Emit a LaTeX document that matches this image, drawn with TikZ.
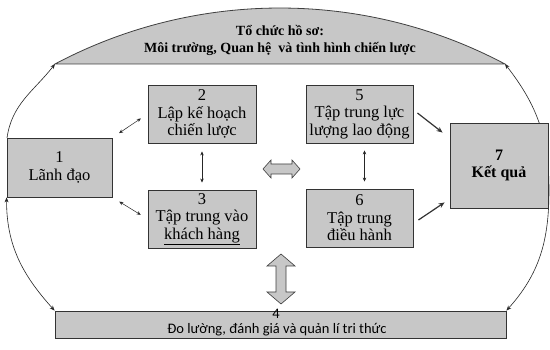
\documentclass[tikz,border=0pt]{standalone}
\usepackage{fontspec}
\setmainfont{Liberation Serif}
\newfontfamily\boxsans{Carlito}
\usetikzlibrary{arrows.meta}
\definecolor{fillg}{gray}{0.78}
\definecolor{edgeg}{gray}{0.2}
\begin{document}
\begin{tikzpicture}[x=1pt,y=-1pt,
  gbox/.style={draw=edgeg, line width=0.9pt, fill=fillg, align=center,
    font=\fontsize{16.5}{17.5}\selectfont, inner sep=0pt},
  link/.style={{Stealth[length=4pt,width=3.5pt]}-{Stealth[length=4pt,width=3.5pt]}, line width=0.5pt, draw=black!85},
  push/.style={-{Stealth[length=6pt,width=5pt]}, line width=1.2pt, draw=black!80},
  ring/.style={{Stealth[length=5pt,width=4pt]}-{Stealth[length=5pt,width=4pt]}, line width=0.6pt, draw=black!85},
  ringone/.style={-{Stealth[length=5pt,width=4pt]}, line width=0.6pt, draw=black!85},
  block/.style={draw=black!75, line width=0.6pt, fill=fillg},
  bartext/.style={font=\boxsans\fontsize{14.5}{12}\selectfont, inner sep=0pt}
]
\useasboundingbox (0,0) rectangle (550,350);
\fill[white] (0,0) rectangle (550,350);

% dome
\coordinate (domeL) at (55,64);
\coordinate (domeR) at (505,64);
\draw[block, line width=0.8pt] (domeL) arc[start angle=117.95, end angle=62.05, radius=480pt] -- cycle;
\node[align=center, font=\bfseries\fontsize{14}{17}\selectfont] (domet) at (280,40)
  {Tổ chức hồ sơ:\\Môi trường, Quan hệ \ và tình hình chiến lược};

% bottom bar
\node[gbox, minimum width=451pt, minimum height=27pt] (b4) at (280.5,324.5) {};
\node[bartext] (b4n) at (276,314) {4};
\node[bartext] (b4t) at (277,329.5) {Đo lường, đánh giá và quản lí tri thức};

% outer arcs
\coordinate (rmid) at (549,190);
\draw[ringone] (7,138) to[out=82,in=232] (domeL);

% boxes
\node[gbox, minimum width=105pt, minimum height=59pt] (b1) at (59.5,167.5) {1\\Lãnh đạo};
\draw[ring] (b4.north west) to[out=132,in=270] (b1.south west);
\draw[ring] (b4.north east) to[out=48,in=270] (rmid) to[out=90,in=308] (domeR);
\node[gbox, minimum width=108pt, minimum height=58pt] (b2) at (202,114) {2\\Lập kế hoạch\\chiến lược};
\node[gbox, minimum width=108pt, minimum height=58pt] (b3) at (202,219) {3\\Tập trung vào\\\underline{khách hàng}};
\node[gbox, minimum width=107pt, minimum height=58pt] (b5) at (359.5,114) {5\\Tập trung lực\\lượng lao động};
\node[gbox, minimum width=107pt, minimum height=58pt] (b6) at (359.5,218) {6\\Tập trung\\điều hành};
\node[gbox, minimum width=98pt, minimum height=85pt, font=\bfseries\fontsize{16}{17.5}\selectfont] (b7) at (499,165.5) {7\\Kết quả};

% small connectors
\draw[link, shorten <=8pt, shorten >=8pt] (b1.north east) -- (b2.west);
\draw[link, shorten <=8pt, shorten >=8pt] (b1.south east) -- (b3.west);
\draw[link, shorten <=8pt, shorten >=7pt] (b2.south) -- (b3.north);
\draw[link, shorten <=7pt, shorten >=7pt] ([xshift=5pt]b5.south) -- ([xshift=5pt]b6.north);
\draw[push] ([xshift=4pt,yshift=1pt]b5.east) -- ([xshift=-7pt,yshift=-10pt]b7.north west);
\draw[push] ([xshift=5pt,yshift=-2pt]b6.east) -- ([xshift=-5pt,yshift=6pt]b7.south west);

% block arrows
\draw[block] (263,169) -- (271,160) -- (271,164) -- (292,164) -- (292,160) -- (300,169)
  -- (292,178) -- (292,174) -- (271,174) -- (271,178) -- cycle;
\draw[block] (281,254) -- (295,266) -- (286,266) -- (286,292) -- (295,292) -- (281,304)
  -- (267,292) -- (276,292) -- (276,266) -- (267,266) -- cycle;
\end{tikzpicture}
\end{document}
